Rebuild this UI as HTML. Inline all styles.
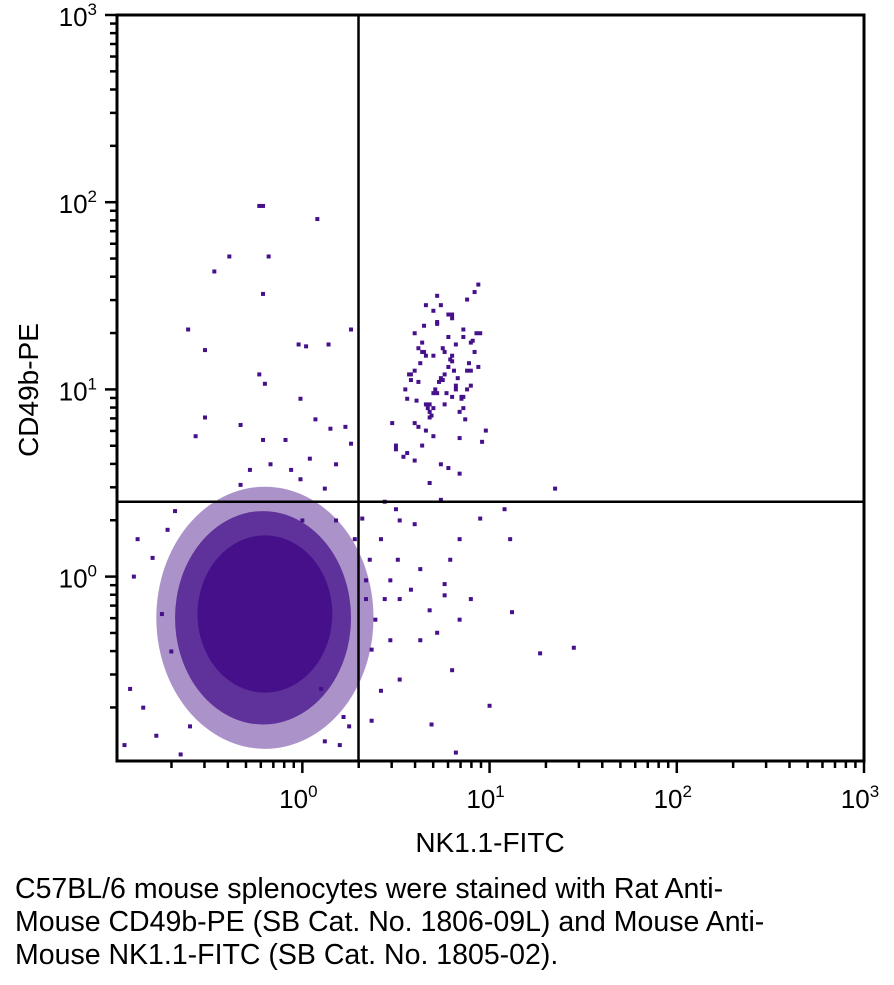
<!DOCTYPE html>
<html><head><meta charset="utf-8"><style>
body{margin:0;background:#fff;width:894px;height:985px;overflow:hidden}
svg{display:block}
text{font-family:"Liberation Sans",sans-serif;fill:#000}
.cap{position:absolute;left:15px;top:873px;font:28.5px/33px "Liberation Sans",sans-serif;color:#000;width:870px;white-space:nowrap}
</style></head><body>
<svg id="chart" width="894" height="870" viewBox="0 0 894 870"></svg>
<div class="cap">C57BL/6 mouse splenocytes were stained with Rat Anti-<br>Mouse CD49b-PE (SB Cat. No. 1806-09L) and Mouse Anti-<br>Mouse NK1.1-FITC (SB Cat. No. 1805-02).</div>
<script>
// data (log10 units)
const xDomain=[-0.99,3];
const yDomain=[-0.985,3];
const decades=[0,1,2,3];
const tickLabels=["10","10","10","10"];
const tickExps=["0","1","2","3"];
const gateX=0.30, gateY=0.40;
// dense population (ellipse: cx, cy, rx, ry in log units)
const coreCx=[-0.2,-0.21,-0.2], coreCy=[-0.22,-0.22,-0.2];
const coreRx=[0.58,0.47,0.36], coreRy=[0.7,0.57,0.42];
const coreAlpha=[0.45,0.75,1];
const px=[-0.23,-0.21,0.08,-0.39,-0.47,-0.18,-0.21,-0.61,-0.52,-0.02,0.02,0.14,0.26,-0.23,-0.2,-0.52,-0.57,-0.33,-0.21,-0.09,-0.01,0.07,0.15,0.23,-0.17,-0.28,-0.06,0.04,0.18,0.26,-0.33,-0.01,0.12,
0.32,0.42,0.36,0.47,0.34,0.39,0.52,0.63,0.68,0.79,0.84,0.9,0.95,1.08,1.11,1.12,0.63,0.52,0.42,0.37,0.69,0.82,1.0,1.27,1.45,1.35,0.5,0.6,0.74,0.37,0.47,0.58,0.76,0.84,0.44,0.51,0.34,
0.55,0.6,0.65,0.7,0.75,0.8,0.85,0.9,0.95,0.62,0.68,0.72,0.78,0.82,0.88,0.92,0.58,0.64,0.7,0.76,0.8,0.86,0.66,0.72,0.78,0.84,0.9,0.74,0.8,0.86,0.6,0.7,0.94,0.98,0.5,0.56,0.68,0.62,0.66,0.72,0.78,0.84,0.76,0.7,0.64,0.58,0.8,0.88,0.92,0.96,0.74,0.68,0.48,0.44,0.52,0.56,0.6,0.66,0.82,0.86,
0.63,0.67,0.71,0.75,0.79,0.83,0.87,0.91,0.61,0.65,0.69,0.73,0.77,0.81,0.85,0.89,0.93,0.57,0.6,0.64,0.68,0.72,0.76,0.8,0.84,0.88,0.7,0.74,0.78,0.66,0.62,0.82,0.86,0.9,0.94,0.54,0.5,0.72,0.76,0.8,
-0.9,-0.85,-0.8,-0.92,-0.75,-0.7,-0.88,-0.78,-0.95,-0.65,0.2,0.25,0.1,-0.4,0.0,0.28,0.22,-0.6,-0.72,-0.68,0.12,0.18,-0.5,-0.45,0.05];
const py=[1.98,1.98,1.91,1.71,1.63,1.71,1.51,1.32,1.21,1.24,1.23,1.24,1.32,1.08,1.03,0.85,0.75,0.81,0.73,0.73,0.95,0.84,0.79,0.8,0.6,0.57,0.57,0.63,0.6,0.71,0.49,0.52,0.47,
0.31,0.2,0.09,-0.02,-0.12,-0.23,-0.12,0.04,-0.18,0.09,0.2,-0.12,0.31,0.36,0.2,-0.19,-0.34,-0.55,-0.61,-0.77,-0.79,-0.94,-0.69,-0.41,-0.38,0.47,0.36,0.28,0.41,-0.39,-0.34,-0.07,-0.04,-0.23,-0.12,0.09,-0.02,
1.0,1.1,1.2,0.9,1.05,1.15,0.95,1.25,1.3,0.8,0.85,1.35,1.4,1.0,1.1,1.2,1.05,0.7,0.75,0.92,1.18,1.28,1.45,1.5,1.12,0.88,1.02,1.45,1.38,1.32,0.62,0.98,1.12,0.78,0.68,0.66,0.88,1.22,1.18,0.98,0.58,0.55,1.08,1.42,1.25,1.08,0.96,1.48,1.52,0.72,0.6,0.5,0.82,0.4,0.3,0.95,1.3,
0.92,1.02,0.96,1.14,0.9,1.0,1.22,1.16,1.06,0.84,1.26,0.94,1.34,0.86,1.04,0.98,1.1,0.96,1.14,1.3,1.08,0.82,1.2,0.92,1.36,1.2,1.4,0.74,1.0,1.18,1.06,1.28,0.78,1.04,1.24,0.9,1.1,1.56,0.64,0.7,
-0.3,-0.1,-0.5,0.0,-0.7,0.1,-0.6,-0.2,-0.4,0.2,-0.85,-0.9,-0.95,-0.9,-0.8,-0.6,0.1,0.3,0.2,-0.75,-0.8,0.25,0.35,-0.88,0.3];
const svg=document.getElementById('chart');
const NS='http://www.w3.org/2000/svg';
const L=117,R=864,T=15,B=761;
const xs=v=>L+(v-xDomain[0])/(xDomain[1]-xDomain[0])*(R-L);
const ys=v=>B-(v-yDomain[0])/(yDomain[1]-yDomain[0])*(B-T);
function mk(tag,attrs,parent){const e=document.createElementNS(NS,tag);for(const k in attrs)e.setAttribute(k,attrs[k]);(parent||svg).appendChild(e);return e;}
const col='#45108a';
coreCx.forEach((c,i)=>{
 const e=mk('ellipse',{cx:xs(c),cy:ys(coreCy[i]),rx:xs(c+coreRx[i])-xs(c),ry:ys(coreCy[i])-ys(coreCy[i]+coreRy[i]),fill:col,'fill-opacity':coreAlpha[i]});
 
 
});
const n=Math.min(px.length,py.length);
for(let i=0;i<n;i++){
 const r=mk('rect',{x:xs(px[i])-2,y:ys(py[i])-2,width:4,height:4,fill:col});
 
 
}
// clip overflow
mk('rect',{x:0,y:B+1,width:894,height:110,fill:'#fff'});
mk('rect',{x:0,y:0,width:L-1,height:B,fill:'#fff'});
// gates
const gv=mk('line',{x1:xs(gateX),x2:xs(gateX),y1:T,y2:B,stroke:'#000','stroke-width':2.5});


const gh=mk('line',{x1:L,x2:R,y1:ys(gateY),y2:ys(gateY),stroke:'#000','stroke-width':2.5});


const fr=mk('rect',{x:L,y:T,width:R-L,height:B-T,fill:'none',stroke:'#000','stroke-width':3});


// ticks
for(let d=-1;d<=2;d++){for(let m=1;m<=9;m++){const v=d+Math.log10(m);if(v<xDomain[0])continue;const big=m===1;
 mk('line',{x1:xs(v),x2:xs(v),y1:B,y2:B+(big?12:7),stroke:'#000','stroke-width':2.5});
 if(v>=yDomain[0]) mk('line',{x1:L,x2:L-(big?12:7),y1:ys(v),y2:ys(v),stroke:'#000','stroke-width':2.5});}}
mk('line',{x1:xs(3),x2:xs(3),y1:B,y2:B+12,stroke:'#000','stroke-width':2.5});
mk('line',{x1:L,x2:L-12,y1:ys(3),y2:ys(3),stroke:'#000','stroke-width':2.5});
decades.forEach((d,i)=>{
 const t=mk('text',{x:xs(d)-4,y:B+47,'font-size':26,'text-anchor':'middle'});
 
 
 t.innerHTML=tickLabels[i]+'<tspan dy="-11" font-size="17">'+tickExps[i]+'</tspan>';
 const u=mk('text',{x:L-20,y:ys(d)+11,'font-size':26,'text-anchor':'end'});
 
 
 u.innerHTML=tickLabels[i]+'<tspan dy="-11" font-size="17">'+tickExps[i]+'</tspan>';
});
const xt=mk('text',{x:490,y:852,'font-size':28,'text-anchor':'middle'});xt.textContent='NK1.1-FITC';


const yt=mk('text',{x:0,y:0,'font-size':28,'text-anchor':'middle',transform:'translate(38,390) rotate(-90)'});yt.textContent='CD49b-PE';


</script>
</body></html>
